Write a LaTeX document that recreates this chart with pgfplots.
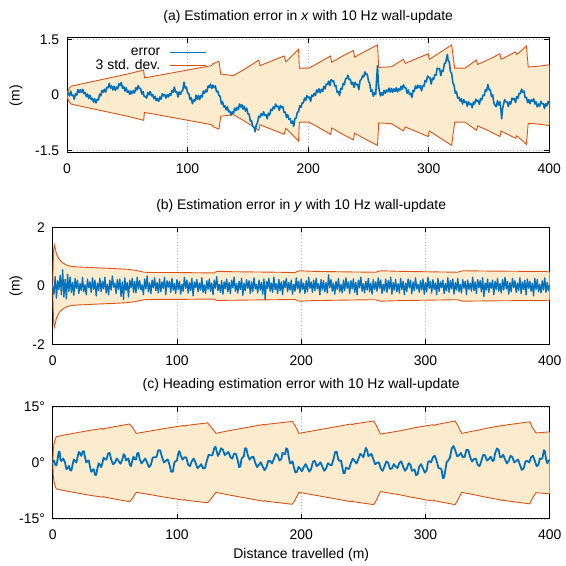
\documentclass[border=0pt]{standalone}
\usepackage{fontspec}
\setmainfont{Liberation Sans}
\usepackage{pgfplots}
\usepackage{pgfplotstable}
\pgfplotsset{compat=1.18}
\usepgfplotslibrary{fillbetween}
\definecolor{errblue}{RGB}{0,114,189}
\definecolor{sdorange}{RGB}{217,83,25}
\definecolor{sdfill}{RGB}{253,235,206}

% ---------- panel (a): envelope ----------
\pgfplotstableread[row sep=\\]{
x u l\\
0 0 0\\ 0.5 0.08 -0.08\\ 1 0.13 -0.13\\ 2 0.19 -0.19\\ 3.6 0.245 -0.245\\ 10 0.29 -0.29\\
20 0.36 -0.36\\ 30 0.43 -0.43\\ 40 0.50 -0.50\\ 50 0.57 -0.57\\ 63.5 0.68 -0.68\\ 64.2 0.47 -0.47\\
70 0.50 -0.50\\ 80 0.56 -0.56\\ 90 0.62 -0.62\\ 100 0.68 -0.68\\ 110 0.74 -0.74\\ 120 0.80 -0.80\\
121 0.85 -0.85\\ 126 0.92 -0.92\\ 127.5 0.57 -0.57\\ 138 0.53 -0.53\\ 145 0.66 -0.66\\ 152 0.80 -0.80\\
159 0.95 -0.95\\ 160 0.80 -0.80\\ 170 0.93 -0.93\\ 180 1.06 -1.06\\ 181.5 0.90 -0.90\\ 192 1.24 -1.24\\
192.7 0.73 -0.73\\ 200.6 0.73 -0.73\\ 210 0.90 -0.90\\ 218.5 1.06 -1.06\\ 219.5 0.89 -0.89\\ 228 1.05 -1.05\\
237.5 1.21 -1.21\\ 238.5 1.03 -1.03\\ 248 1.20 -1.20\\ 257.5 1.36 -1.36\\ 258.5 0.75 -0.75\\ 269 0.77 -0.77\\
279 0.97 -0.97\\ 280.5 0.86 -0.86\\ 290 0.99 -0.99\\ 299.5 1.12 -1.12\\ 300.5 0.97 -0.97\\ 310 1.17 -1.17\\
319 1.36 -1.36\\ 321.5 0.73 -0.73\\ 330 0.73 -0.73\\ 339.5 0.95 -0.95\\ 340.5 0.83 -0.83\\ 350 0.97 -0.97\\
359 1.12 -1.12\\ 360 0.97 -0.97\\ 372 1.17 -1.17\\ 373 1.10 -1.10\\ 381 1.33 -1.33\\ 382.5 0.76 -0.76\\
390 0.78 -0.78\\ 400 0.82 -0.82\\
}\enva

% ---------- panel (a): error ----------
\pgfplotstableread[row sep=\\]{
x y\\
0 0.00\\ 1 0.06\\ 2 -0.02\\ 3 0.11\\ 4 -0.01\\ 5 0.00\\ 6 -0.11\\ 7 0.04\\ 8 0.00\\ 9 0.15\\
10 0.07\\ 11 0.15\\ 12 0.07\\ 13 0.16\\ 14 0.04\\ 15 0.07\\ 16 -0.04\\ 17 0.03\\ 18 -0.09\\ 19 0.00\\
20 -0.12\\ 21 -0.08\\ 22 -0.19\\ 23 -0.10\\ 24 -0.21\\ 25 -0.11\\ 26 -0.13\\ 27 0.03\\ 28 -0.02\\ 29 0.13\\
30 0.08\\ 31 0.16\\ 32 0.08\\ 33 0.21\\ 34 0.20\\ 35 0.32\\ 36 0.19\\ 37 0.25\\ 38 0.14\\ 39 0.24\\
40 0.13\\ 41 0.22\\ 42 0.17\\ 43 0.31\\ 44 0.26\\ 45 0.34\\ 46 0.19\\ 47 0.23\\ 48 0.11\\ 49 0.20\\
50 0.08\\ 51 0.12\\ 52 0.02\\ 53 0.11\\ 54 0.04\\ 55 0.12\\ 56 0.06\\ 57 0.20\\ 58 0.14\\ 59 0.26\\
60 0.18\\ 61 0.18\\ 62 0.03\\ 63 0.10\\ 64 -0.04\\ 65 -0.03\\ 66 -0.08\\ 67 0.07\\ 68 0.01\\ 69 0.10\\
70 -0.02\\ 71 0.02\\ 72 -0.10\\ 73 -0.03\\ 74 -0.15\\ 75 -0.09\\ 76 -0.17\\ 77 -0.05\\ 78 -0.11\\ 79 0.04\\
80 -0.02\\ 81 0.02\\ 82 -0.08\\ 83 0.01\\ 84 -0.05\\ 85 0.04\\ 86 -0.01\\ 87 0.13\\ 88 0.08\\ 89 0.22\\
90 0.08\\ 91 0.09\\ 92 -0.05\\ 93 0.09\\ 94 0.02\\ 95 0.10\\ 96 0.13\\ 97 0.35\\ 98 0.19\\ 99 0.22\\
100 0.06\\ 101 0.04\\ 102 -0.12\\ 103 -0.07\\ 104 -0.23\\ 105 -0.13\\ 106 -0.16\\ 107 0.00\\ 108 -0.11\\ 109 -0.01\\
110 -0.12\\ 111 -0.01\\ 112 -0.05\\ 113 0.11\\ 114 0.05\\ 115 0.14\\ 116 0.09\\ 117 0.25\\ 118 0.21\\ 119 0.30\\
120 0.18\\ 121 0.27\\ 122 0.20\\ 123 0.25\\ 124 0.09\\ 125 0.11\\ 126 -0.01\\ 127 -0.03\\ 128 -0.24\\ 129 -0.18\\
130 -0.32\\ 131 -0.29\\ 132 -0.40\\ 133 -0.32\\ 134 -0.45\\ 135 -0.43\\ 136 -0.54\\ 137 -0.45\\ 138 -0.50\\ 139 -0.35\\
140 -0.42\\ 141 -0.33\\ 142 -0.39\\ 143 -0.24\\ 144 -0.32\\ 145 -0.26\\ 146 -0.38\\ 147 -0.30\\ 148 -0.43\\ 149 -0.35\\
150 -0.51\\ 151 -0.51\\ 152 -0.70\\ 153 -0.69\\ 154 -0.85\\ 155 -0.86\\ 156 -0.99\\ 157 -0.80\\ 158 -0.74\\ 159 -0.57\\
160 -0.60\\ 161 -0.50\\ 162 -0.55\\ 163 -0.45\\ 164 -0.55\\ 165 -0.53\\ 166 -0.64\\ 167 -0.49\\ 168 -0.54\\ 169 -0.38\\
170 -0.42\\ 171 -0.32\\ 172 -0.37\\ 173 -0.24\\ 174 -0.31\\ 175 -0.30\\ 176 -0.41\\ 177 -0.28\\ 178 -0.34\\ 179 -0.31\\
180 -0.47\\ 181 -0.46\\ 182 -0.60\\ 183 -0.53\\ 184 -0.65\\ 185 -0.64\\ 186 -0.76\\ 187 -0.70\\ 188 -0.84\\ 189 -0.63\\
190 -0.62\\ 191 -0.46\\ 192 -0.45\\ 193 -0.29\\ 194 -0.33\\ 195 -0.21\\ 196 -0.21\\ 197 -0.08\\ 198 -0.14\\ 199 -0.01\\
200 -0.07\\ 201 -0.05\\ 202 -0.17\\ 203 0.00\\ 204 -0.03\\ 205 0.05\\ 206 -0.01\\ 207 0.14\\ 208 0.08\\ 209 0.17\\
210 0.06\\ 211 0.16\\ 212 0.10\\ 213 0.24\\ 214 0.17\\ 215 0.30\\ 216 0.29\\ 217 0.38\\ 218 0.26\\ 219 0.42\\
220 0.38\\ 221 0.39\\ 222 0.25\\ 223 0.26\\ 224 0.07\\ 225 0.10\\ 226 -0.01\\ 227 0.18\\ 228 0.16\\ 229 0.32\\
230 0.28\\ 231 0.44\\ 232 0.45\\ 233 0.54\\ 234 0.42\\ 235 0.42\\ 236 0.29\\ 237 0.35\\ 238 0.21\\ 239 0.35\\
240 0.28\\ 241 0.29\\ 242 0.15\\ 243 0.39\\ 244 0.42\\ 245 0.52\\ 246 0.49\\ 247 0.63\\ 248 0.56\\ 249 0.57\\
250 0.38\\ 251 0.32\\ 252 0.10\\ 253 0.14\\ 254 -0.03\\ 255 0.07\\ 256 0.02\\ 256.8 0.45\\ 257.5 0.80\\ 258.2 0.30\\ 259 0.12\\
260 -0.02\\ 261 0.07\\ 262 0.00\\ 263 0.13\\ 264 0.05\\ 265 0.14\\ 266 0.09\\ 267 0.19\\ 268 0.08\\ 269 0.18\\
270 0.08\\ 271 0.17\\ 272 0.10\\ 273 0.20\\ 274 0.09\\ 275 0.17\\ 276 0.12\\ 277 0.24\\ 278 0.16\\ 279 0.28\\
280 0.20\\ 281 0.20\\ 282 0.05\\ 283 0.14\\ 284 0.02\\ 285 0.05\\ 286 -0.06\\ 287 0.13\\ 288 0.11\\ 289 0.25\\
290 0.18\\ 291 0.27\\ 292 0.20\\ 293 0.26\\ 294 0.12\\ 295 0.25\\ 296 0.24\\ 297 0.40\\ 298 0.36\\ 299 0.52\\
300 0.48\\ 301 0.47\\ 302 0.30\\ 303 0.46\\ 304 0.42\\ 305 0.55\\ 306 0.54\\ 307 0.73\\ 308 0.71\\ 309 0.72\\
310 0.53\\ 311 0.67\\ 312 0.65\\ 313 0.86\\ 314 0.87\\ 315 1.04\\ 315.5 1.10\\ 316 0.94\\ 317 0.90\\ 318 0.64\\ 319 0.59\\
320 0.33\\ 321 0.27\\ 322 0.05\\ 323 0.09\\ 324 -0.08\\ 325 -0.06\\ 326 -0.16\\ 327 -0.10\\ 328 -0.24\\ 329 -0.12\\
330 -0.20\\ 331 -0.18\\ 332 -0.30\\ 333 -0.18\\ 334 -0.25\\ 335 -0.23\\ 336 -0.34\\ 337 -0.19\\ 338 -0.24\\ 339 -0.11\\
340 -0.17\\ 341 -0.14\\ 342 -0.25\\ 343 -0.09\\ 344 -0.13\\ 345 0.00\\ 346 -0.01\\ 347 0.15\\ 348 0.11\\ 349 0.29\\
350 0.15\\ 351 0.14\\ 352 -0.03\\ 353 0.01\\ 354 -0.21\\ 355 -0.28\\ 356 -0.31\\ 357 -0.15\\ 358 -0.27\\ 359 -0.18\\
360 -0.45\\ 360.5 -0.64\\ 361 -0.40\\ 362 -0.25\\ 363 -0.12\\ 364 -0.18\\ 365 -0.18\\ 366 -0.31\\ 367 -0.18\\ 368 -0.24\\ 369 -0.08\\
370 -0.12\\ 371 -0.09\\ 372 -0.20\\ 373 -0.04\\ 374 -0.08\\ 375 0.05\\ 376 0.04\\ 377 0.16\\ 378 0.08\\ 379 0.11\\
380 -0.07\\ 381 -0.06\\ 382 -0.20\\ 383 -0.12\\ 384 -0.23\\ 385 -0.13\\ 386 -0.16\\ 387 -0.10\\ 388 -0.24\\ 389 -0.18\\
390 -0.32\\ 391 -0.24\\ 392 -0.30\\ 393 -0.17\\ 394 -0.23\\ 395 -0.23\\ 396 -0.36\\ 397 -0.23\\ 398 -0.29\\ 399 -0.17\\
400 -0.24\\
}\erra

% ---------- panel (b): envelope ----------
\pgfplotstableread[row sep=\\]{
x u l\\
0 0 0\\ 0.4 0.80 -0.80\\ 0.8 1.25 -1.25\\ 1.3 1.41 -1.41\\ 2 1.30 -1.30\\ 3 1.10 -1.10\\ 4.3 0.98 -0.98\\
6 0.87 -0.87\\ 8 0.79 -0.79\\ 9.7 0.75 -0.75\\ 12 0.70 -0.70\\ 15 0.67 -0.67\\ 20 0.65 -0.65\\ 25.7 0.64 -0.64\\
35 0.62 -0.62\\ 47 0.60 -0.60\\ 60.5 0.57 -0.57\\ 67 0.53 -0.53\\ 73.9 0.47 -0.47\\ 80 0.46 -0.46\\
100 0.46 -0.46\\ 120 0.45 -0.45\\ 130 0.45 -0.45\\ 131 0.48 -0.48\\ 133 0.50 -0.50\\ 140 0.49 -0.49\\
160 0.48 -0.48\\ 180 0.47 -0.47\\ 195 0.46 -0.46\\ 197 0.50 -0.50\\ 199 0.52 -0.52\\ 210 0.50 -0.50\\
240 0.48 -0.48\\ 260 0.47 -0.47\\ 262 0.50 -0.50\\ 264 0.52 -0.52\\ 280 0.50 -0.50\\ 310 0.48 -0.48\\
326 0.47 -0.47\\ 328 0.50 -0.50\\ 330 0.52 -0.52\\ 350 0.51 -0.51\\ 380 0.50 -0.50\\ 395 0.50 -0.50\\ 400 0.48 -0.48\\
}\envb

% ---------- panel (b): error ----------
\pgfplotstableread[row sep=\\]{
x y\\
0 0.00\\ 1 -0.28\\ 2 0.32\\ 3 -0.42\\ 4 0.18\\ 5 -0.12\\ 6 0.36\\ 7 -0.30\\ 8 0.56\\ 9 -0.38\\
10 0.22\\ 11 -0.44\\ 12 0.40\\ 13 -0.18\\ 14 0.30\\ 15 -0.22\\ 16 0.12\\ 17 -0.32\\ 18 0.26\\ 19 -0.08\\
20 0.20\\ 21 -0.26\\ 22 0.08\\ 23 -0.16\\ 24 0.30\\ 25 -0.20\\ 26 0.04\\ 27 -0.30\\ 28 0.24\\ 29 -0.06\\
30 0.14\\ 31 -0.22\\ 32 0.28\\ 33 -0.12\\ 34 0.20\\ 35 -0.34\\ 36 0.10\\ 37 -0.16\\ 38 0.26\\ 39 -0.20\\
40 0.16\\ 41 -0.10\\ 42 0.30\\ 43 -0.24\\ 44 0.06\\ 45 -0.30\\ 46 0.20\\ 47 -0.14\\ 48 0.34\\ 49 -0.04\\
50 0.10\\ 51 -0.26\\ 52 0.22\\ 53 -0.12\\ 54 0.24\\ 55 -0.36\\ 56 0.14\\ 57 -0.46\\ 58 0.28\\ 59 -0.16\\
60 0.12\\ 61 -0.38\\ 62 0.20\\ 63 -0.06\\ 64 0.26\\ 65 -0.22\\ 66 0.16\\ 67 -0.24\\ 68 0.30\\ 69 -0.10\\
70 0.18\\ 71 -0.14\\ 72 0.04\\ 73 -0.30\\ 74 0.24\\ 75 -0.10\\ 76 0.34\\ 77 -0.20\\ 78 0.10\\ 79 -0.26\\
80 0.20\\ 81 -0.06\\ 82 0.28\\ 83 -0.16\\ 84 0.12\\ 85 -0.24\\ 86 0.24\\ 87 -0.20\\ 88 0.14\\ 89 -0.08\\
90 0.30\\ 91 -0.30\\ 92 0.18\\ 93 -0.04\\ 94 0.16\\ 95 -0.22\\ 96 0.26\\ 97 -0.14\\ 98 0.08\\ 99 -0.26\\
100 0.22\\ 101 -0.12\\ 102 0.16\\ 103 -0.28\\ 104 0.06\\ 105 -0.18\\ 106 0.30\\ 107 -0.08\\ 108 0.20\\ 109 -0.24\\
110 0.12\\ 111 -0.16\\ 112 0.26\\ 113 -0.34\\ 114 0.14\\ 115 -0.06\\ 116 0.22\\ 117 -0.20\\ 118 0.10\\ 119 -0.14\\
120 0.28\\ 121 -0.22\\ 122 0.04\\ 123 -0.26\\ 124 0.18\\ 125 -0.12\\ 126 0.24\\ 127 -0.18\\ 128 0.10\\ 129 -0.30\\
130 0.20\\ 131 -0.08\\ 132 0.32\\ 133 -0.16\\ 134 0.06\\ 135 -0.22\\ 136 0.18\\ 137 -0.28\\ 138 0.14\\ 139 -0.10\\
140 0.24\\ 141 -0.20\\ 142 0.12\\ 143 -0.26\\ 144 0.20\\ 145 -0.06\\ 146 0.30\\ 147 -0.18\\ 148 0.08\\ 149 -0.24\\
150 0.16\\ 151 -0.12\\ 152 0.26\\ 153 -0.32\\ 154 0.10\\ 155 -0.16\\ 156 0.22\\ 157 -0.08\\ 158 0.18\\ 159 -0.26\\
160 0.14\\ 161 -0.20\\ 162 0.28\\ 163 -0.10\\ 164 0.06\\ 165 -0.24\\ 166 0.20\\ 167 -0.14\\ 168 0.12\\ 169 -0.28\\
170 0.24\\ 171 -0.46\\ 172 0.16\\ 173 -0.08\\ 174 0.26\\ 175 -0.18\\ 176 0.10\\ 177 -0.22\\ 178 0.30\\ 179 -0.12\\
180 0.08\\ 181 -0.26\\ 182 0.22\\ 183 -0.16\\ 184 0.14\\ 185 -0.30\\ 186 0.18\\ 187 -0.06\\ 188 0.26\\ 189 -0.20\\
190 0.12\\ 191 -0.14\\ 192 0.20\\ 193 -0.28\\ 194 0.06\\ 195 -0.18\\ 196 0.28\\ 197 -0.10\\ 198 0.16\\ 199 -0.24\\
200 0.24\\ 201 -0.12\\ 202 0.10\\ 203 -0.26\\ 204 0.18\\ 205 -0.20\\ 206 0.30\\ 207 -0.08\\ 208 0.14\\ 209 -0.22\\
210 0.20\\ 211 -0.16\\ 212 0.26\\ 213 -0.10\\ 214 0.08\\ 215 -0.30\\ 216 0.22\\ 217 -0.14\\ 218 0.18\\ 219 -0.20\\
220 0.12\\ 221 -0.24\\ 222 0.38\\ 223 -0.06\\ 224 0.22\\ 225 -0.18\\ 226 0.10\\ 227 -0.28\\ 228 0.16\\ 229 -0.12\\
230 0.26\\ 231 -0.20\\ 232 0.06\\ 233 -0.24\\ 234 0.20\\ 235 -0.16\\ 236 0.28\\ 237 -0.08\\ 238 0.14\\ 239 -0.26\\
240 0.18\\ 241 -0.10\\ 242 0.24\\ 243 -0.22\\ 244 0.12\\ 245 -0.30\\ 246 0.20\\ 247 -0.06\\ 248 0.30\\ 249 -0.18\\
250 0.08\\ 251 -0.24\\ 252 0.16\\ 253 -0.14\\ 254 0.26\\ 255 -0.20\\ 256 0.10\\ 257 -0.28\\ 258 0.22\\ 259 -0.12\\
260 0.14\\ 261 -0.18\\ 262 0.28\\ 263 -0.08\\ 264 0.20\\ 265 -0.26\\ 266 0.06\\ 267 -0.16\\ 268 0.24\\ 269 -0.22\\
270 0.18\\ 271 -0.10\\ 272 0.30\\ 273 -0.28\\ 274 0.12\\ 275 -0.14\\ 276 0.22\\ 277 -0.20\\ 278 0.08\\ 279 -0.24\\
280 0.26\\ 281 -0.12\\ 282 0.16\\ 283 -0.30\\ 284 0.10\\ 285 -0.18\\ 286 0.24\\ 287 -0.06\\ 288 0.20\\ 289 -0.26\\
290 0.14\\ 291 -0.16\\ 292 0.28\\ 293 -0.10\\ 294 0.06\\ 295 -0.22\\ 296 0.18\\ 297 -0.14\\ 298 0.24\\ 299 -0.28\\
300 0.12\\ 301 -0.20\\ 302 0.30\\ 303 -0.08\\ 304 0.16\\ 305 -0.24\\ 306 0.22\\ 307 -0.12\\ 308 0.10\\ 309 -0.30\\
310 0.26\\ 311 -0.18\\ 312 0.14\\ 313 -0.06\\ 314 0.20\\ 315 -0.26\\ 316 0.08\\ 317 -0.16\\ 318 0.28\\ 319 -0.22\\
320 0.18\\ 321 -0.10\\ 322 0.24\\ 323 -0.28\\ 324 0.12\\ 325 -0.14\\ 326 0.26\\ 327 -0.20\\ 328 0.06\\ 329 -0.24\\
330 0.22\\ 331 -0.08\\ 332 0.16\\ 333 -0.30\\ 334 0.20\\ 335 -0.12\\ 336 0.10\\ 337 -0.18\\ 338 0.30\\ 339 -0.16\\
340 0.14\\ 341 -0.26\\ 342 0.22\\ 343 -0.06\\ 344 0.18\\ 345 -0.20\\ 346 0.28\\ 347 -0.36\\ 348 0.10\\ 349 -0.14\\
350 0.24\\ 351 -0.22\\ 352 0.12\\ 353 -0.08\\ 354 0.20\\ 355 -0.30\\ 356 0.16\\ 357 -0.12\\ 358 0.26\\ 359 -0.18\\
360 0.08\\ 361 -0.24\\ 362 0.22\\ 363 -0.14\\ 364 0.30\\ 365 -0.10\\ 366 0.16\\ 367 -0.28\\ 368 0.12\\ 369 -0.20\\
370 0.26\\ 371 -0.06\\ 372 0.18\\ 373 -0.22\\ 374 0.10\\ 375 -0.16\\ 376 0.28\\ 377 -0.26\\ 378 0.14\\ 379 -0.12\\
380 0.20\\ 381 -0.30\\ 382 0.24\\ 383 -0.08\\ 384 0.16\\ 385 -0.18\\ 386 0.10\\ 387 -0.34\\ 388 0.26\\ 389 -0.12\\
390 0.22\\ 391 -0.20\\ 392 0.06\\ 393 -0.24\\ 394 0.18\\ 395 -0.14\\ 396 0.28\\ 397 -0.22\\ 398 0.12\\ 399 -0.16\\
400 0.05\\
}\errb

% ---------- panel (c): envelope ----------
\pgfplotstableread[row sep=\\]{
x u l\\
0 0 0\\ 0.5 3.5 -3.5\\ 1 5.0 -5.0\\ 2 6.3 -6.3\\ 3 7.0 -7.0\\ 10 7.5 -7.5\\ 20 8.1 -8.1\\ 30 8.7 -8.7\\
40 9.2 -9.2\\ 41 9.0 -9.0\\ 42 9.2 -9.2\\ 50 9.7 -9.7\\ 61.8 10.4 -10.4\\ 64 9.6 -9.6\\ 67.2 7.9 -7.9\\
80 8.6 -8.6\\ 90 9.2 -9.2\\ 100 9.7 -9.7\\ 105 10.0 -10.0\\ 106 9.8 -9.8\\ 107 10.0 -10.0\\ 124.6 10.7 -10.7\\
127 9.8 -9.8\\ 131.4 7.9 -7.9\\ 140 8.5 -8.5\\ 150 9.1 -9.1\\ 160 9.7 -9.7\\ 170 10.3 -10.3\\ 171 10.1 -10.1\\
172 10.3 -10.3\\ 192.8 11.1 -11.1\\ 195 10.0 -10.0\\ 198.2 7.9 -7.9\\ 210 8.6 -8.6\\ 220 9.2 -9.2\\
230 9.8 -9.8\\ 240 10.4 -10.4\\ 241 10.2 -10.2\\ 242 10.4 -10.4\\ 258.3 11.2 -11.2\\ 260.5 10.0 -10.0\\
263.7 7.7 -7.7\\ 280 8.6 -8.6\\ 290 9.3 -9.3\\ 300 9.9 -9.9\\ 306 10.2 -10.2\\ 307 10.0 -10.0\\ 308 10.2 -10.2\\
323.8 11.2 -11.2\\ 326 10.0 -10.0\\ 329.1 7.9 -7.9\\ 340 8.6 -8.6\\ 350 9.3 -9.3\\ 360 9.9 -9.9\\
362 10.1 -10.1\\ 363 9.9 -9.9\\ 364 10.1 -10.1\\ 384 11.0 -11.0\\ 386 9.5 -9.5\\ 389 8.0 -8.0\\ 400 8.3 -8.3\\
}\envc

% ---------- panel (c): error ----------
\pgfplotstableread[row sep=\\]{
x y\\
0 0\\ 1 0.65\\ 2 -0.5\\ 3 -0.65\\ 4 1.0\\ 4.75 2.9\\ 5.5 3.0\\ 6.25 0.85\\ 7 0.5\\ 8.5 1.15\\
10 0\\ 11 -1.65\\ 12 -1.5\\ 13 -0.8\\ 14 -1.9\\ 15 -2.1\\ 16 -0.5\\ 17 0.9\\ 18 0.5\\ 19 0.1\\
20 1.5\\ 21 2.9\\ 22 2.5\\ 23 1.85\\ 24 3.0\\ 25 3.15\\ 26 1.5\\ 27 0.1\\ 28 0.5\\ 29 0.65\\
30 -1.0\\ 31 -2.4\\ 32 -2.0\\ 33 -1.7\\ 34 -3.2\\ 35 -3.25\\ 36 -1.5\\ 37 -0.1\\ 38 -0.5\\ 39 -1.15\\
40 0.0\\ 41 1.4\\ 42 1.0\\ 43.25 0.85\\ 44.5 2.5\\ 45.75 2.65\\ 47 1.0\\ 48.5 -0.4\\ 50 0.0\\ 51.5 1.15\\
53 0.5\\ 54.5 -0.25\\ 56 0.8\\ 57 2.3\\ 58 2.0\\ 59 0.6\\ 60 1.0\\ 61 1.15\\ 62 -0.5\\ 63 -0.9\\
64 0.5\\ 65 1.65\\ 66 1.0\\ 67 0.85\\ 68 2.5\\ 69 2.65\\ 70 1.0\\ 71.5 -0.15\\ 73 0.5\\ 74.5 1.15\\
76 0.0\\ 77.5 -1.15\\ 79 -0.5\\ 80.5 1.4\\ 82 1.5\\ 83.5 1.55\\ 85 3.4\\ 86.5 3.35\\ 88 1.5\\ 89.5 0.1\\
91 0.5\\ 92.5 0.9\\ 94 -0.5\\ 95.3 -2.35\\ 96.7 -2.4\\ 97.8 -0.05\\ 99 0.5\\ 100 0.6\\ 101 2.5\\ 102 3.15\\
103 2.0\\ 104.5 0.85\\ 106 1.5\\ 107.5 1.4\\ 109 -0.5\\ 110.5 -0.9\\ 112 0.5\\ 113.5 1.15\\ 115 0.0\\ 116.5 -1.4\\
118 -1.0\\ 119.5 -0.35\\ 121 -1.5\\ 122.5 -1.4\\ 124 0.5\\ 125.5 2.15\\ 127 2.0\\ 128.5 2.05\\ 130 3.9\\ 131 4.35\\
132 3.0\\ 133 1.85\\ 134 2.5\\ 135.5 3.9\\ 137 3.5\\ 138.5 2.1\\ 140 2.5\\ 141.5 2.9\\ 143 1.5\\ 144.5 1.1\\
146 2.5\\ 147.5 2.4\\ 149 0.5\\ 150 -1.15\\ 151 -1.0\\ 152 1.15\\ 153 1.5\\ 153.85 1.8\\ 154.7 3.9\\ 155.85 3.85\\
157 2.0\\ 158.5 0.85\\ 160 1.5\\ 161.5 1.65\\ 163 0.0\\ 164.5 -1.15\\ 166 -0.5\\ 167.5 0.15\\ 169 -1.0\\ 170.5 -2.0\\
172 -1.2\\ 173.5 0.55\\ 175 0.5\\ 176.5 -0.15\\ 178 1.0\\ 179.5 2.4\\ 181 2.0\\ 182.5 0.6\\ 184 1.0\\ 185 2.65\\
186 2.5\\ 187 2.3\\ 188 3.9\\ 189 3.6\\ 190 1.5\\ 191 -0.15\\ 192 0.0\\ 193 0.4\\ 194 -1.0\\ 195.3 -2.6\\
196.6 -2.4\\ 197.8 -1.05\\ 199 -1.5\\ 200.5 -2.25\\ 202 -1.2\\ 203.5 -0.35\\ 205 -1.3\\ 206.5 -2.35\\ 208 -1.6\\ 209.5 0.35\\
211 0.5\\ 212.5 -0.9\\ 214 -0.5\\ 215.5 0.15\\ 217 -1.0\\ 218.5 -2.15\\ 220 -1.5\\ 221.5 -0.1\\ 223 -0.5\\ 224.5 -0.65\\
226 1.0\\ 227.3 2.9\\ 228.6 3.0\\ 229.8 0.85\\ 231 0.5\\ 232 0.65\\ 233 -1.0\\ 234 -2.8\\ 235 -2.8\\ 236 -1.25\\
237 -1.5\\ 238.5 -1.65\\ 240 0.0\\ 241.5 1.15\\ 243 0.5\\ 244.5 -0.15\\ 246 1.0\\ 247.5 2.4\\ 249 2.0\\ 250 1.5\\
251 2.8\\ 252 4.0\\ 253 3.4\\ 254 1.8\\ 255 2.0\\ 256.5 2.4\\ 258 1.0\\ 259.5 -0.4\\ 261 0.0\\ 262.5 0.15\\
264 -1.5\\ 265.5 -2.15\\ 267 -1.0\\ 268.5 0.4\\ 270 0.0\\ 271.5 -1.65\\ 273 -1.5\\ 274.5 -0.35\\ 276 -1.0\\ 277.5 -1.4\\
279 0.0\\ 280.5 0.4\\ 282 -1.0\\ 283.5 -2.15\\ 285 -1.5\\ 286.5 -0.1\\ 288 -0.5\\ 289 -2.15\\ 290 -2.0\\ 291.2 -1.75\\
292.4 -3.3\\ 293.7 -3.05\\ 295 -1.0\\ 296.5 -0.35\\ 298 -1.5\\ 299.5 -2.65\\ 301 -2.0\\ 302 0.15\\ 303 0.5\\ 304.5 0.1\\
306 1.5\\ 307.5 1.9\\ 309 0.5\\ 310.5 -1.4\\ 312 -1.5\\ 313 -1.9\\ 314 -4.1\\ 315 -3.95\\ 316 -2.0\\ 317 0.15\\
318 0.5\\ 319.6 1.3\\ 321.2 3.9\\ 322.6 4.5\\ 324 3.3\\ 325.5 1.75\\ 327 2.0\\ 328.5 2.65\\ 330 1.5\\ 331.5 1.6\\
333 3.5\\ 334.5 3.4\\ 336 1.5\\ 337.5 0.35\\ 339 1.0\\ 340.5 1.15\\ 342 -0.5\\ 343.5 -0.9\\ 345 0.5\\ 346.5 2.15\\
348 2.0\\ 349.5 0.6\\ 351 1.0\\ 352.5 1.65\\ 354 0.5\\ 355 0.6\\ 356 2.5\\ 357.5 3.85\\ 359 3.4\\ 360 1.55\\
361 1.5\\ 362.5 2.15\\ 364 1.0\\ 365.5 -0.15\\ 367 0.5\\ 368.5 1.9\\ 370 1.5\\ 371.5 0.1\\ 373 0.5\\ 374.5 0.9\\
376 -0.5\\ 377.5 -1.9\\ 379 -1.5\\ 380.5 0.4\\ 382 0.5\\ 383.5 0.1\\ 385 1.5\\ 386.5 1.9\\ 388 0.5\\ 389.5 -0.9\\
391 -0.5\\ 392 1.15\\ 393 1.0\\ 394.15 1.3\\ 395.3 3.4\\ 396.15 3.1\\ 397 1.0\\ 398 -0.15\\ 399 0.5\\ 400 0.8\\
}\errc

\pgfplotsset{
  panel/.style={
    scale only axis, anchor=south west,
    xmin=0, xmax=400,
    xtick={0,100,200,300,400}, xticklabels={0,100,200,300,400},
    grid=major,
    major grid style={gray!60, line width=0.6pt, dash pattern=on 0.8pt off 2.4pt},
    axis line style={black, line width=1.1pt},
    tick style={black, line width=0.9pt},
    major tick length=5pt, tick align=inside,
    xticklabel style={yshift=-6pt},
    yticklabel style={xshift=-3pt},
  },
  envline/.style={sdorange, line width=0.9pt, forget plot},
  errline/.style={errblue, line width=1.6pt, line join=round, forget plot},
}

\begin{document}
\fontsize{14}{16.8}\selectfont
\begin{tikzpicture}

% ---------------- (a) ----------------
\begin{axis}[panel, at={(67.3pt,413pt)}, width=484pt, height=115pt,
  ymin=-1.55, ymax=1.55, ytick={-1.5,0,1.5}, yticklabels={-1.5,0,1.5},
  legend style={draw=none, fill=none, at={(axis description cs:0.289,0.93)}, anchor=north east,
    inner sep=0pt, outer sep=0pt, row sep=-2pt, column sep=7pt},
  legend cell align=right, legend plot pos=right,
]
\addlegendimage{legend image code/.code={\draw[errblue, line width=1.3pt] (0pt,0pt) -- (36pt,0pt);}}
\addlegendentry{error}
\addlegendimage{legend image code/.code={\draw[sdorange, line width=0.9pt] (0pt,0pt) -- (36pt,0pt);}}
\addlegendentry{3 std. dev.}
\addplot[envline, name path=aU] table[x=x, y=u] {\enva};
\addplot[envline, name path=aL] table[x=x, y=l] {\enva};
\addplot[sdfill, forget plot] fill between[of=aU and aL];
\addplot[errline] table[x=x, y=y] {\erra};
\end{axis}

% ---------------- (b) ----------------
\begin{axis}[panel, at={(52.9pt,220.3pt)}, width=498.8pt, height=117.4pt,
  ymin=-2, ymax=2, ytick={-2,0,2}, yticklabels={-2,0,2}]
\addplot[envline, name path=bU] table[x=x, y=u] {\envb};
\addplot[envline, name path=bL] table[x=x, y=l] {\envb};
\addplot[sdfill, forget plot] fill between[of=bU and bL];
\addplot[errline, line width=1.3pt] table[x=x, y=y] {\errb};
\end{axis}

% ---------------- (c) ----------------
\begin{axis}[panel, at={(52.9pt,45.3pt)}, width=498.8pt, height=112.4pt,
  ymin=-15, ymax=15, ytick={-15,0,15}, yticklabels={-15°,0°,15°}]
\addplot[envline, name path=cU] table[x=x, y=u] {\envc};
\addplot[envline, name path=cL] table[x=x, y=l] {\envc};
\addplot[sdfill, forget plot] fill between[of=cU and cL];
\addplot[errline, line width=1.8pt] table[x=x, y=y] {\errc};
\end{axis}

% titles and labels
\node at (309.3pt,549.3pt) {(a) Estimation error in \textit{x} with 10 Hz wall-update};
\node at (302.3pt,359.3pt) {(b) Estimation error in \textit{y} with 10 Hz wall-update};
\node at (302.3pt,179.3pt) {(c) Heading estimation error with 10 Hz wall-update};
\node at (302.3pt,9.3pt) {Distance travelled (m)};
\node[rotate=90] at (16pt,470pt) {(m)};
\node[rotate=90] at (16pt,279pt) {(m)};
\path (0pt,0pt) rectangle (566pt,566pt);
\end{tikzpicture}
\end{document}
